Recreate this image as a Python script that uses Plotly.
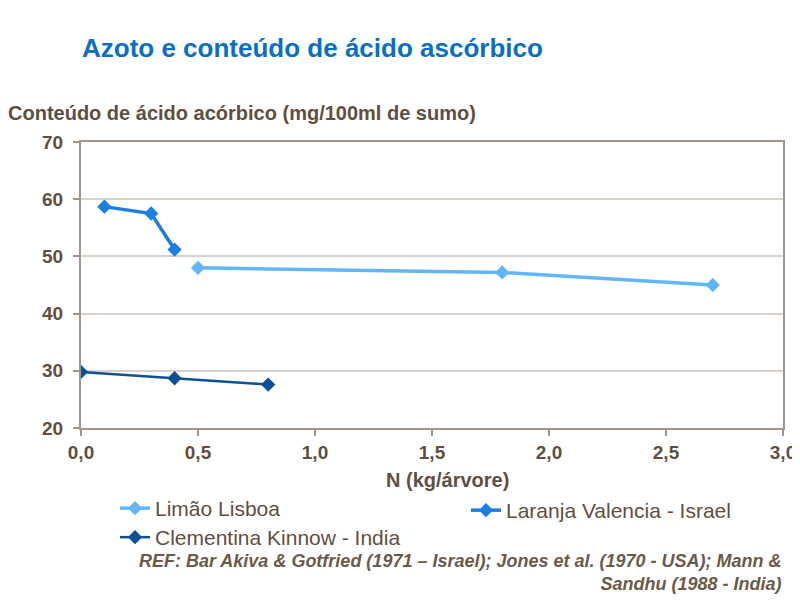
import plotly.graph_objects as go

limao_x = [0.5, 1.8, 2.7]
limao_y = [48.0, 47.2, 45.0]
laranja_x = [0.1, 0.3, 0.4]
laranja_y = [58.7, 57.5, 51.2]
clem_x = [0.0, 0.4, 0.8]
clem_y = [29.8, 28.7, 27.6]

x_ticks = [0.0, 0.5, 1.0, 1.5, 2.0, 2.5, 3.0]
x_labels = ["0,0", "0,5", "1,0", "1,5", "2,0", "2,5", "3,0"]
y_ticks = [20, 30, 40, 50, 60, 70]

brown = "#5f4f40"
axis_col = "#a39487"
font = "Liberation Sans, Arial, sans-serif"

L, T, W, H = 73, 134, 702, 286


def px(xp):
    return (xp - L) / W


def py(yp):
    return (T + H - yp) / H


fig = go.Figure()
fig.add_trace(go.Scatter(x=limao_x, y=limao_y, name="Limão Lisboa", mode="lines+markers",
                         line=dict(color="#62b6f7", width=3.5),
                         marker=dict(symbol="diamond", size=11, color="#62b6f7"),
                         legend="legend"))
fig.add_trace(go.Scatter(x=laranja_x, y=laranja_y, name="Laranja Valencia - Israel", mode="lines+markers",
                         line=dict(color="#1a7fe0", width=3.5),
                         marker=dict(symbol="diamond", size=11, color="#1a7fe0"),
                         legend="legend2"))
fig.add_trace(go.Scatter(x=clem_x, y=clem_y, name="Clementina Kinnow - India", mode="lines+markers",
                         line=dict(color="#0d5096", width=2.5),
                         marker=dict(symbol="diamond", size=11, color="#0d5096"),
                         legend="legend3"))

leg_font = dict(size=21, color=brown, family=font)
fig.update_layout(
    width=800, height=600,
    paper_bgcolor="white", plot_bgcolor="white",
    margin=dict(l=L, r=800 - L - W, t=T, b=600 - T - H),
    font=dict(family=font, color=brown, size=15),
    showlegend=True,
    legend=dict(x=px(107), xanchor="left", y=py(480), yanchor="top", font=leg_font,
                bgcolor="rgba(0,0,0,0)", itemwidth=30),
    legend2=dict(x=px(458), xanchor="left", y=py(482), yanchor="top", font=leg_font,
                 bgcolor="rgba(0,0,0,0)", itemwidth=30),
    legend3=dict(x=px(107), xanchor="left", y=py(509), yanchor="top", font=leg_font,
                 bgcolor="rgba(0,0,0,0)", itemwidth=30),
    xaxis=dict(range=[0, 3.0], tickvals=x_ticks, ticktext=x_labels,
               showgrid=False, zeroline=False,
               showline=True, linecolor=axis_col, linewidth=2, mirror=True,
               ticks="outside", ticklen=6, tickcolor=axis_col, tickwidth=1.5,
               tickfont=dict(size=19, color=brown, weight="bold")),
    yaxis=dict(range=[20, 70], tickvals=y_ticks,
               showgrid=True, gridcolor="#d8d2cc", gridwidth=1.5, zeroline=False,
               showline=True, linecolor=axis_col, linewidth=2, mirror=True,
               ticks="outside", ticklen=6, tickcolor=axis_col, tickwidth=1.5,
               ticklabelstandoff=6,
               tickfont=dict(size=19, color=brown, weight="bold")),
)

fig.add_annotation(text="<b>Azoto e conteúdo de ácido ascórbico</b>", xref="paper", yref="paper",
                   x=px(72), y=py(40), xanchor="left", yanchor="middle",
                   showarrow=False, font=dict(size=26, color="#0a6fc2", family=font))
fig.add_annotation(text="<b>Conteúdo de ácido acórbico (mg/100ml de sumo)</b>", xref="paper", yref="paper",
                   x=px(-2), y=py(105), xanchor="left", yanchor="middle",
                   showarrow=False, font=dict(size=20, color=brown, family=font))
fig.add_annotation(text="<b>N (kg/árvore)</b>", xref="paper", yref="paper",
                   x=px(440), y=py(472), xanchor="center", yanchor="middle",
                   showarrow=False, font=dict(size=20, color=brown, family=font))
fig.add_annotation(text="<b><i>REF: Bar Akiva &amp; Gotfried (1971 – Israel); Jones et al. (1970 - USA); Mann &amp;<br>Sandhu (1988 - India)</i></b>",
                   xref="paper", yref="paper", x=px(776), y=py(541),
                   xanchor="right", yanchor="top", align="right", showarrow=False,
                   font=dict(size=18, color="#6b5a48", family=font))

fig.write_html("out.html")
